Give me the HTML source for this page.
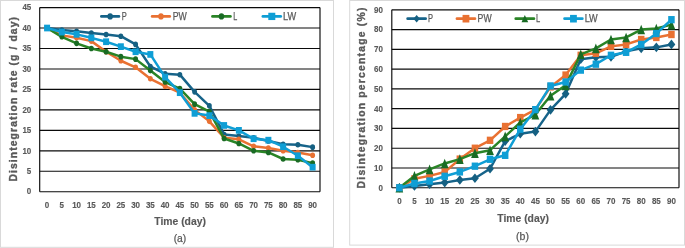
<!DOCTYPE html>
<html><head><meta charset="utf-8"><title>Disintegration charts</title>
<style>
html,body{margin:0;padding:0;background:#fff;}
svg{display:block}
text{font-family:"Liberation Sans",sans-serif;fill:#595959;}
.tk{font-size:9.8px;font-weight:bold;stroke:#595959;stroke-width:0.15px;}
.lg{font-size:10.4px;stroke:#595959;stroke-width:0.25px;}
.xt{font-size:11.2px;font-weight:bold;stroke:#595959;stroke-width:0.15px;}
.sb{font-size:10.8px;stroke:#595959;stroke-width:0.25px;}
.yt{font-size:10.4px;font-weight:bold;stroke:#595959;stroke-width:0.35px;}
</style></head><body>
<svg width="685" height="248" viewBox="0 0 685 248">
<rect width="685" height="248" fill="#fff"/>
<g>
<rect width="685" height="248" fill="#fff"/>
<rect x="0.5" y="0.5" width="333.0" height="246.8" fill="#fff" stroke="#D9D9D9" stroke-width="1"/>
<line x1="39.7" y1="191.75" x2="320.0" y2="191.75" stroke="#0a0a0a" stroke-width="1.15"/>
<text x="26.85" y="194.45" class="tk" textLength="4.45" lengthAdjust="spacingAndGlyphs">0</text>
<line x1="39.7" y1="171.28" x2="320.0" y2="171.28" stroke="#0a0a0a" stroke-width="1.15"/>
<text x="26.85" y="173.98" class="tk" textLength="4.45" lengthAdjust="spacingAndGlyphs">5</text>
<line x1="39.7" y1="150.82" x2="320.0" y2="150.82" stroke="#0a0a0a" stroke-width="1.15"/>
<text x="22.40" y="153.52" class="tk" textLength="8.90" lengthAdjust="spacingAndGlyphs">10</text>
<line x1="39.7" y1="130.35" x2="320.0" y2="130.35" stroke="#0a0a0a" stroke-width="1.15"/>
<text x="22.40" y="133.05" class="tk" textLength="8.90" lengthAdjust="spacingAndGlyphs">15</text>
<line x1="39.7" y1="109.88" x2="320.0" y2="109.88" stroke="#0a0a0a" stroke-width="1.15"/>
<text x="22.40" y="112.58" class="tk" textLength="8.90" lengthAdjust="spacingAndGlyphs">20</text>
<line x1="39.7" y1="89.42" x2="320.0" y2="89.42" stroke="#0a0a0a" stroke-width="1.15"/>
<text x="22.40" y="92.12" class="tk" textLength="8.90" lengthAdjust="spacingAndGlyphs">25</text>
<line x1="39.7" y1="68.95" x2="320.0" y2="68.95" stroke="#0a0a0a" stroke-width="1.15"/>
<text x="22.40" y="71.65" class="tk" textLength="8.90" lengthAdjust="spacingAndGlyphs">30</text>
<line x1="39.7" y1="48.48" x2="320.0" y2="48.48" stroke="#0a0a0a" stroke-width="1.15"/>
<text x="22.40" y="51.18" class="tk" textLength="8.90" lengthAdjust="spacingAndGlyphs">35</text>
<line x1="39.7" y1="28.02" x2="320.0" y2="28.02" stroke="#0a0a0a" stroke-width="1.15"/>
<text x="22.40" y="30.72" class="tk" textLength="8.90" lengthAdjust="spacingAndGlyphs">40</text>
<line x1="39.7" y1="7.55" x2="320.0" y2="7.55" stroke="#0a0a0a" stroke-width="1.15"/>
<text x="22.40" y="10.25" class="tk" textLength="8.90" lengthAdjust="spacingAndGlyphs">45</text>
<line x1="39.7" y1="7.55" x2="39.7" y2="191.75" stroke="#0a0a0a" stroke-width="1.15"/>
<line x1="320.0" y1="7.55" x2="320.0" y2="191.75" stroke="#0a0a0a" stroke-width="1.15"/>
<text x="44.85" y="208.0" class="tk" textLength="4.45" lengthAdjust="spacingAndGlyphs">0</text>
<text x="59.60" y="208.0" class="tk" textLength="4.45" lengthAdjust="spacingAndGlyphs">5</text>
<text x="72.13" y="208.0" class="tk" textLength="8.90" lengthAdjust="spacingAndGlyphs">10</text>
<text x="86.88" y="208.0" class="tk" textLength="8.90" lengthAdjust="spacingAndGlyphs">15</text>
<text x="101.64" y="208.0" class="tk" textLength="8.90" lengthAdjust="spacingAndGlyphs">20</text>
<text x="116.39" y="208.0" class="tk" textLength="8.90" lengthAdjust="spacingAndGlyphs">25</text>
<text x="131.14" y="208.0" class="tk" textLength="8.90" lengthAdjust="spacingAndGlyphs">30</text>
<text x="145.89" y="208.0" class="tk" textLength="8.90" lengthAdjust="spacingAndGlyphs">35</text>
<text x="160.65" y="208.0" class="tk" textLength="8.90" lengthAdjust="spacingAndGlyphs">40</text>
<text x="175.40" y="208.0" class="tk" textLength="8.90" lengthAdjust="spacingAndGlyphs">45</text>
<text x="190.15" y="208.0" class="tk" textLength="8.90" lengthAdjust="spacingAndGlyphs">50</text>
<text x="204.91" y="208.0" class="tk" textLength="8.90" lengthAdjust="spacingAndGlyphs">55</text>
<text x="219.66" y="208.0" class="tk" textLength="8.90" lengthAdjust="spacingAndGlyphs">60</text>
<text x="234.41" y="208.0" class="tk" textLength="8.90" lengthAdjust="spacingAndGlyphs">65</text>
<text x="249.16" y="208.0" class="tk" textLength="8.90" lengthAdjust="spacingAndGlyphs">70</text>
<text x="263.92" y="208.0" class="tk" textLength="8.90" lengthAdjust="spacingAndGlyphs">75</text>
<text x="278.67" y="208.0" class="tk" textLength="8.90" lengthAdjust="spacingAndGlyphs">80</text>
<text x="293.42" y="208.0" class="tk" textLength="8.90" lengthAdjust="spacingAndGlyphs">85</text>
<text x="308.17" y="208.0" class="tk" textLength="8.90" lengthAdjust="spacingAndGlyphs">90</text>
<polyline points="47.08,28.02 61.83,30.06 76.58,31.29 91.33,32.93 106.09,34.57 120.84,36.20 135.59,44.39 150.34,66.49 165.10,73.86 179.85,74.68 194.60,91.87 209.36,105.79 224.11,134.44 238.86,136.08 253.61,137.72 268.37,140.99 283.12,144.27 297.87,144.68 312.62,147.13" fill="none" stroke="#166389" stroke-width="2.5" stroke-linejoin="round" stroke-linecap="round"/>
<ellipse cx="47.08" cy="28.02" rx="2.45" ry="2.80" fill="#156082"/>
<ellipse cx="61.83" cy="30.06" rx="2.45" ry="2.80" fill="#156082"/>
<ellipse cx="76.58" cy="31.29" rx="2.45" ry="2.80" fill="#156082"/>
<ellipse cx="91.33" cy="32.93" rx="2.45" ry="2.80" fill="#156082"/>
<ellipse cx="106.09" cy="34.57" rx="2.45" ry="2.80" fill="#156082"/>
<ellipse cx="120.84" cy="36.20" rx="2.45" ry="2.80" fill="#156082"/>
<ellipse cx="135.59" cy="44.39" rx="2.45" ry="2.80" fill="#156082"/>
<ellipse cx="150.34" cy="66.49" rx="2.45" ry="2.80" fill="#156082"/>
<ellipse cx="165.10" cy="73.86" rx="2.45" ry="2.80" fill="#156082"/>
<ellipse cx="179.85" cy="74.68" rx="2.45" ry="2.80" fill="#156082"/>
<ellipse cx="194.60" cy="91.87" rx="2.45" ry="2.80" fill="#156082"/>
<ellipse cx="209.36" cy="105.79" rx="2.45" ry="2.80" fill="#156082"/>
<ellipse cx="224.11" cy="134.44" rx="2.45" ry="2.80" fill="#156082"/>
<ellipse cx="238.86" cy="136.08" rx="2.45" ry="2.80" fill="#156082"/>
<ellipse cx="253.61" cy="137.72" rx="2.45" ry="2.80" fill="#156082"/>
<ellipse cx="268.37" cy="140.99" rx="2.45" ry="2.80" fill="#156082"/>
<ellipse cx="283.12" cy="144.27" rx="2.45" ry="2.80" fill="#156082"/>
<ellipse cx="297.87" cy="144.68" rx="2.45" ry="2.80" fill="#156082"/>
<ellipse cx="312.62" cy="147.13" rx="2.45" ry="2.80" fill="#156082"/>
<polyline points="47.08,28.02 61.83,35.38 76.58,37.84 91.33,41.12 106.09,51.76 120.84,60.76 135.59,67.31 150.34,78.77 165.10,86.14 179.85,92.69 194.60,109.88 209.36,121.34 224.11,137.72 238.86,139.36 253.61,146.31 268.37,147.95 283.12,150.82 297.87,152.45 312.62,155.32" fill="none" stroke="#E97132" stroke-width="2.5" stroke-linejoin="round" stroke-linecap="round"/>
<ellipse cx="47.08" cy="28.02" rx="2.45" ry="2.80" fill="#E97132"/>
<ellipse cx="61.83" cy="35.38" rx="2.45" ry="2.80" fill="#E97132"/>
<ellipse cx="76.58" cy="37.84" rx="2.45" ry="2.80" fill="#E97132"/>
<ellipse cx="91.33" cy="41.12" rx="2.45" ry="2.80" fill="#E97132"/>
<ellipse cx="106.09" cy="51.76" rx="2.45" ry="2.80" fill="#E97132"/>
<ellipse cx="120.84" cy="60.76" rx="2.45" ry="2.80" fill="#E97132"/>
<ellipse cx="135.59" cy="67.31" rx="2.45" ry="2.80" fill="#E97132"/>
<ellipse cx="150.34" cy="78.77" rx="2.45" ry="2.80" fill="#E97132"/>
<ellipse cx="165.10" cy="86.14" rx="2.45" ry="2.80" fill="#E97132"/>
<ellipse cx="179.85" cy="92.69" rx="2.45" ry="2.80" fill="#E97132"/>
<ellipse cx="194.60" cy="109.88" rx="2.45" ry="2.80" fill="#E97132"/>
<ellipse cx="209.36" cy="121.34" rx="2.45" ry="2.80" fill="#E97132"/>
<ellipse cx="224.11" cy="137.72" rx="2.45" ry="2.80" fill="#E97132"/>
<ellipse cx="238.86" cy="139.36" rx="2.45" ry="2.80" fill="#E97132"/>
<ellipse cx="253.61" cy="146.31" rx="2.45" ry="2.80" fill="#E97132"/>
<ellipse cx="268.37" cy="147.95" rx="2.45" ry="2.80" fill="#E97132"/>
<ellipse cx="283.12" cy="150.82" rx="2.45" ry="2.80" fill="#E97132"/>
<ellipse cx="297.87" cy="152.45" rx="2.45" ry="2.80" fill="#E97132"/>
<ellipse cx="312.62" cy="155.32" rx="2.45" ry="2.80" fill="#E97132"/>
<polyline points="47.08,28.02 61.83,36.82 76.58,43.37 91.33,48.48 106.09,51.76 120.84,56.67 135.59,59.13 150.34,70.59 165.10,82.05 179.85,88.60 194.60,104.15 209.36,111.52 224.11,138.54 238.86,143.45 253.61,150.82 268.37,152.45 283.12,159.00 297.87,159.82 312.62,163.10" fill="none" stroke="#2A8426" stroke-width="2.5" stroke-linejoin="round" stroke-linecap="round"/>
<ellipse cx="47.08" cy="28.02" rx="2.45" ry="2.80" fill="#196B24"/>
<ellipse cx="61.83" cy="36.82" rx="2.45" ry="2.80" fill="#196B24"/>
<ellipse cx="76.58" cy="43.37" rx="2.45" ry="2.80" fill="#196B24"/>
<ellipse cx="91.33" cy="48.48" rx="2.45" ry="2.80" fill="#196B24"/>
<ellipse cx="106.09" cy="51.76" rx="2.45" ry="2.80" fill="#196B24"/>
<ellipse cx="120.84" cy="56.67" rx="2.45" ry="2.80" fill="#196B24"/>
<ellipse cx="135.59" cy="59.13" rx="2.45" ry="2.80" fill="#196B24"/>
<ellipse cx="150.34" cy="70.59" rx="2.45" ry="2.80" fill="#196B24"/>
<ellipse cx="165.10" cy="82.05" rx="2.45" ry="2.80" fill="#196B24"/>
<ellipse cx="179.85" cy="88.60" rx="2.45" ry="2.80" fill="#196B24"/>
<ellipse cx="194.60" cy="104.15" rx="2.45" ry="2.80" fill="#196B24"/>
<ellipse cx="209.36" cy="111.52" rx="2.45" ry="2.80" fill="#196B24"/>
<ellipse cx="224.11" cy="138.54" rx="2.45" ry="2.80" fill="#196B24"/>
<ellipse cx="238.86" cy="143.45" rx="2.45" ry="2.80" fill="#196B24"/>
<ellipse cx="253.61" cy="150.82" rx="2.45" ry="2.80" fill="#196B24"/>
<ellipse cx="268.37" cy="152.45" rx="2.45" ry="2.80" fill="#196B24"/>
<ellipse cx="283.12" cy="159.00" rx="2.45" ry="2.80" fill="#196B24"/>
<ellipse cx="297.87" cy="159.82" rx="2.45" ry="2.80" fill="#196B24"/>
<ellipse cx="312.62" cy="163.10" rx="2.45" ry="2.80" fill="#196B24"/>
<polyline points="47.08,28.02 61.83,32.11 76.58,34.36 91.33,37.84 106.09,41.73 120.84,46.64 135.59,51.76 150.34,54.42 165.10,77.14 179.85,92.69 194.60,113.36 209.36,115.61 224.11,125.44 238.86,130.35 253.61,138.74 268.37,140.17 283.12,146.72 297.87,155.73 312.62,167.19" fill="none" stroke="#0F9ED5" stroke-width="2.5" stroke-linejoin="round" stroke-linecap="round"/>
<rect x="44.08" y="24.67" width="6.00" height="6.70" fill="#0F9ED5"/>
<rect x="58.83" y="28.76" width="6.00" height="6.70" fill="#0F9ED5"/>
<rect x="73.58" y="31.01" width="6.00" height="6.70" fill="#0F9ED5"/>
<rect x="88.33" y="34.49" width="6.00" height="6.70" fill="#0F9ED5"/>
<rect x="103.09" y="38.38" width="6.00" height="6.70" fill="#0F9ED5"/>
<rect x="117.84" y="43.29" width="6.00" height="6.70" fill="#0F9ED5"/>
<rect x="132.59" y="48.41" width="6.00" height="6.70" fill="#0F9ED5"/>
<rect x="147.34" y="51.07" width="6.00" height="6.70" fill="#0F9ED5"/>
<rect x="162.10" y="73.79" width="6.00" height="6.70" fill="#0F9ED5"/>
<rect x="176.85" y="89.34" width="6.00" height="6.70" fill="#0F9ED5"/>
<rect x="191.60" y="110.01" width="6.00" height="6.70" fill="#0F9ED5"/>
<rect x="206.36" y="112.26" width="6.00" height="6.70" fill="#0F9ED5"/>
<rect x="221.11" y="122.09" width="6.00" height="6.70" fill="#0F9ED5"/>
<rect x="235.86" y="127.00" width="6.00" height="6.70" fill="#0F9ED5"/>
<rect x="250.61" y="135.39" width="6.00" height="6.70" fill="#0F9ED5"/>
<rect x="265.37" y="136.82" width="6.00" height="6.70" fill="#0F9ED5"/>
<rect x="280.12" y="143.37" width="6.00" height="6.70" fill="#0F9ED5"/>
<rect x="294.87" y="152.38" width="6.00" height="6.70" fill="#0F9ED5"/>
<rect x="309.62" y="163.84" width="6.00" height="6.70" fill="#0F9ED5"/>
<line x1="101.4" y1="16.4" x2="118.89999999999999" y2="16.4" stroke="#166389" stroke-width="2.8" stroke-linecap="round"/>
<ellipse cx="110.15" cy="16.40" rx="2.75" ry="3.15" fill="#156082"/>
<text x="121.8" y="19.8" class="lg" textLength="5.0" lengthAdjust="spacingAndGlyphs">P</text>
<line x1="152.20000000000002" y1="16.4" x2="169.7" y2="16.4" stroke="#E97132" stroke-width="2.8" stroke-linecap="round"/>
<ellipse cx="160.95" cy="16.40" rx="2.75" ry="3.15" fill="#E97132"/>
<text x="172.7" y="19.8" class="lg" textLength="14.1" lengthAdjust="spacingAndGlyphs">PW</text>
<line x1="212.5" y1="16.4" x2="230.4" y2="16.4" stroke="#2A8426" stroke-width="2.8" stroke-linecap="round"/>
<ellipse cx="221.45" cy="16.40" rx="2.75" ry="3.15" fill="#196B24"/>
<text x="233.2" y="19.8" class="lg" textLength="4.0" lengthAdjust="spacingAndGlyphs">L</text>
<line x1="262.9" y1="16.4" x2="280.70000000000005" y2="16.4" stroke="#0F9ED5" stroke-width="2.8" stroke-linecap="round"/>
<rect x="268.30" y="12.75" width="7.00" height="7.30" fill="#0F9ED5"/>
<text x="283" y="19.8" class="lg" textLength="13.1" lengthAdjust="spacingAndGlyphs">LW</text>
<text x="154.3" y="224.5" class="xt" textLength="51.6" lengthAdjust="spacingAndGlyphs">Time (day)</text>
<text x="173.7" y="241.9" class="sb" textLength="12.6" lengthAdjust="spacingAndGlyphs">(a)</text>
<text transform="translate(16.9,181.5) rotate(-90)" class="yt" textLength="164.5" lengthAdjust="spacing">Disintegration rate (g / day)</text>
<rect x="349.7" y="0.5" width="334.8" height="244.6" fill="#fff" stroke="#D9D9D9" stroke-width="1"/>
<line x1="391.8" y1="187.75" x2="679.0" y2="187.75" stroke="#0a0a0a" stroke-width="1.15"/>
<text x="378.55" y="190.65" class="tk" textLength="4.45" lengthAdjust="spacingAndGlyphs">0</text>
<line x1="391.8" y1="167.98" x2="679.0" y2="167.98" stroke="#0a0a0a" stroke-width="1.15"/>
<text x="374.10" y="170.88" class="tk" textLength="8.90" lengthAdjust="spacingAndGlyphs">10</text>
<line x1="391.8" y1="148.21" x2="679.0" y2="148.21" stroke="#0a0a0a" stroke-width="1.15"/>
<text x="374.10" y="151.11" class="tk" textLength="8.90" lengthAdjust="spacingAndGlyphs">20</text>
<line x1="391.8" y1="128.43" x2="679.0" y2="128.43" stroke="#0a0a0a" stroke-width="1.15"/>
<text x="374.10" y="131.33" class="tk" textLength="8.90" lengthAdjust="spacingAndGlyphs">30</text>
<line x1="391.8" y1="108.66" x2="679.0" y2="108.66" stroke="#0a0a0a" stroke-width="1.15"/>
<text x="374.10" y="111.56" class="tk" textLength="8.90" lengthAdjust="spacingAndGlyphs">40</text>
<line x1="391.8" y1="88.89" x2="679.0" y2="88.89" stroke="#0a0a0a" stroke-width="1.15"/>
<text x="374.10" y="91.79" class="tk" textLength="8.90" lengthAdjust="spacingAndGlyphs">50</text>
<line x1="391.8" y1="69.12" x2="679.0" y2="69.12" stroke="#0a0a0a" stroke-width="1.15"/>
<text x="374.10" y="72.02" class="tk" textLength="8.90" lengthAdjust="spacingAndGlyphs">60</text>
<line x1="391.8" y1="49.34" x2="679.0" y2="49.34" stroke="#0a0a0a" stroke-width="1.15"/>
<text x="374.10" y="52.24" class="tk" textLength="8.90" lengthAdjust="spacingAndGlyphs">70</text>
<line x1="391.8" y1="29.57" x2="679.0" y2="29.57" stroke="#0a0a0a" stroke-width="1.15"/>
<text x="374.10" y="32.47" class="tk" textLength="8.90" lengthAdjust="spacingAndGlyphs">80</text>
<line x1="391.8" y1="9.80" x2="679.0" y2="9.80" stroke="#0a0a0a" stroke-width="1.15"/>
<text x="374.10" y="12.70" class="tk" textLength="8.90" lengthAdjust="spacingAndGlyphs">90</text>
<line x1="391.8" y1="9.8" x2="391.8" y2="187.75" stroke="#0a0a0a" stroke-width="1.15"/>
<line x1="679.0" y1="9.8" x2="679.0" y2="187.75" stroke="#0a0a0a" stroke-width="1.15"/>
<text x="397.13" y="204.2" class="tk" textLength="4.45" lengthAdjust="spacingAndGlyphs">0</text>
<text x="412.25" y="204.2" class="tk" textLength="4.45" lengthAdjust="spacingAndGlyphs">5</text>
<text x="425.14" y="204.2" class="tk" textLength="8.90" lengthAdjust="spacingAndGlyphs">10</text>
<text x="440.26" y="204.2" class="tk" textLength="8.90" lengthAdjust="spacingAndGlyphs">15</text>
<text x="455.37" y="204.2" class="tk" textLength="8.90" lengthAdjust="spacingAndGlyphs">20</text>
<text x="470.49" y="204.2" class="tk" textLength="8.90" lengthAdjust="spacingAndGlyphs">25</text>
<text x="485.60" y="204.2" class="tk" textLength="8.90" lengthAdjust="spacingAndGlyphs">30</text>
<text x="500.72" y="204.2" class="tk" textLength="8.90" lengthAdjust="spacingAndGlyphs">35</text>
<text x="515.83" y="204.2" class="tk" textLength="8.90" lengthAdjust="spacingAndGlyphs">40</text>
<text x="530.95" y="204.2" class="tk" textLength="8.90" lengthAdjust="spacingAndGlyphs">45</text>
<text x="546.07" y="204.2" class="tk" textLength="8.90" lengthAdjust="spacingAndGlyphs">50</text>
<text x="561.18" y="204.2" class="tk" textLength="8.90" lengthAdjust="spacingAndGlyphs">55</text>
<text x="576.30" y="204.2" class="tk" textLength="8.90" lengthAdjust="spacingAndGlyphs">60</text>
<text x="591.41" y="204.2" class="tk" textLength="8.90" lengthAdjust="spacingAndGlyphs">65</text>
<text x="606.53" y="204.2" class="tk" textLength="8.90" lengthAdjust="spacingAndGlyphs">70</text>
<text x="621.64" y="204.2" class="tk" textLength="8.90" lengthAdjust="spacingAndGlyphs">75</text>
<text x="636.76" y="204.2" class="tk" textLength="8.90" lengthAdjust="spacingAndGlyphs">80</text>
<text x="651.88" y="204.2" class="tk" textLength="8.90" lengthAdjust="spacingAndGlyphs">85</text>
<text x="666.99" y="204.2" class="tk" textLength="8.90" lengthAdjust="spacingAndGlyphs">90</text>
<polyline points="399.36,187.75 414.47,185.97 429.59,184.19 444.71,182.61 459.82,180.04 474.94,178.26 490.05,168.77 505.17,141.09 520.28,133.77 535.40,131.60 550.52,109.85 565.63,93.83 580.75,59.23 595.86,57.25 610.98,56.86 626.09,51.32 641.21,48.36 656.33,47.37 671.44,44.40" fill="none" stroke="#166389" stroke-width="2.5" stroke-linejoin="round" stroke-linecap="round"/>
<polygon points="399.36,182.95 403.26,187.75 399.36,192.55 395.46,187.75" fill="#156082"/>
<polygon points="414.47,181.17 418.37,185.97 414.47,190.77 410.57,185.97" fill="#156082"/>
<polygon points="429.59,179.39 433.49,184.19 429.59,188.99 425.69,184.19" fill="#156082"/>
<polygon points="444.71,177.81 448.61,182.61 444.71,187.41 440.81,182.61" fill="#156082"/>
<polygon points="459.82,175.24 463.72,180.04 459.82,184.84 455.92,180.04" fill="#156082"/>
<polygon points="474.94,173.46 478.84,178.26 474.94,183.06 471.04,178.26" fill="#156082"/>
<polygon points="490.05,163.97 493.95,168.77 490.05,173.57 486.15,168.77" fill="#156082"/>
<polygon points="505.17,136.29 509.07,141.09 505.17,145.89 501.27,141.09" fill="#156082"/>
<polygon points="520.28,128.97 524.18,133.77 520.28,138.57 516.38,133.77" fill="#156082"/>
<polygon points="535.40,126.80 539.30,131.60 535.40,136.40 531.50,131.60" fill="#156082"/>
<polygon points="550.52,105.05 554.42,109.85 550.52,114.65 546.62,109.85" fill="#156082"/>
<polygon points="565.63,89.03 569.53,93.83 565.63,98.63 561.73,93.83" fill="#156082"/>
<polygon points="580.75,54.43 584.65,59.23 580.75,64.03 576.85,59.23" fill="#156082"/>
<polygon points="595.86,52.45 599.76,57.25 595.86,62.05 591.96,57.25" fill="#156082"/>
<polygon points="610.98,52.06 614.88,56.86 610.98,61.66 607.08,56.86" fill="#156082"/>
<polygon points="626.09,46.52 629.99,51.32 626.09,56.12 622.19,51.32" fill="#156082"/>
<polygon points="641.21,43.56 645.11,48.36 641.21,53.16 637.31,48.36" fill="#156082"/>
<polygon points="656.33,42.57 660.23,47.37 656.33,52.17 652.43,47.37" fill="#156082"/>
<polygon points="671.44,39.60 675.34,44.40 671.44,49.20 667.54,44.40" fill="#156082"/>
<polyline points="399.36,187.75 414.47,178.85 429.59,175.89 444.71,171.93 459.82,159.08 474.94,148.21 490.05,140.30 505.17,126.46 520.28,117.56 535.40,109.65 550.52,86.91 565.63,75.05 580.75,55.28 595.86,53.30 610.98,46.38 626.09,44.40 641.21,39.46 656.33,37.48 671.44,34.52" fill="none" stroke="#E97132" stroke-width="2.5" stroke-linejoin="round" stroke-linecap="round"/>
<rect x="396.11" y="184.10" width="6.50" height="7.30" fill="#E97132"/>
<rect x="411.22" y="175.20" width="6.50" height="7.30" fill="#E97132"/>
<rect x="426.34" y="172.24" width="6.50" height="7.30" fill="#E97132"/>
<rect x="441.46" y="168.28" width="6.50" height="7.30" fill="#E97132"/>
<rect x="456.57" y="155.43" width="6.50" height="7.30" fill="#E97132"/>
<rect x="471.69" y="144.56" width="6.50" height="7.30" fill="#E97132"/>
<rect x="486.80" y="136.65" width="6.50" height="7.30" fill="#E97132"/>
<rect x="501.92" y="122.81" width="6.50" height="7.30" fill="#E97132"/>
<rect x="517.03" y="113.91" width="6.50" height="7.30" fill="#E97132"/>
<rect x="532.15" y="106.00" width="6.50" height="7.30" fill="#E97132"/>
<rect x="547.27" y="83.26" width="6.50" height="7.30" fill="#E97132"/>
<rect x="562.38" y="71.40" width="6.50" height="7.30" fill="#E97132"/>
<rect x="577.50" y="51.63" width="6.50" height="7.30" fill="#E97132"/>
<rect x="592.61" y="49.65" width="6.50" height="7.30" fill="#E97132"/>
<rect x="607.73" y="42.73" width="6.50" height="7.30" fill="#E97132"/>
<rect x="622.84" y="40.75" width="6.50" height="7.30" fill="#E97132"/>
<rect x="637.96" y="35.81" width="6.50" height="7.30" fill="#E97132"/>
<rect x="653.08" y="33.83" width="6.50" height="7.30" fill="#E97132"/>
<rect x="668.19" y="30.87" width="6.50" height="7.30" fill="#E97132"/>
<polyline points="399.36,187.75 414.47,175.89 429.59,169.36 444.71,163.43 459.82,159.08 474.94,153.15 490.05,150.18 505.17,136.34 520.28,122.50 535.40,114.59 550.52,95.81 565.63,85.33 580.75,54.29 595.86,48.36 610.98,39.46 626.09,37.48 641.21,29.57 656.33,28.58 671.44,24.63" fill="none" stroke="#2A8426" stroke-width="2.5" stroke-linejoin="round" stroke-linecap="round"/>
<polygon points="399.36,182.95 403.21,192.55 395.51,192.55" fill="#196B24"/>
<polygon points="414.47,171.09 418.32,180.69 410.62,180.69" fill="#196B24"/>
<polygon points="429.59,164.56 433.44,174.16 425.74,174.16" fill="#196B24"/>
<polygon points="444.71,158.63 448.56,168.23 440.86,168.23" fill="#196B24"/>
<polygon points="459.82,154.28 463.67,163.88 455.97,163.88" fill="#196B24"/>
<polygon points="474.94,148.35 478.79,157.95 471.09,157.95" fill="#196B24"/>
<polygon points="490.05,145.38 493.90,154.98 486.20,154.98" fill="#196B24"/>
<polygon points="505.17,131.54 509.02,141.14 501.32,141.14" fill="#196B24"/>
<polygon points="520.28,117.70 524.13,127.30 516.43,127.30" fill="#196B24"/>
<polygon points="535.40,109.79 539.25,119.39 531.55,119.39" fill="#196B24"/>
<polygon points="550.52,91.01 554.37,100.61 546.67,100.61" fill="#196B24"/>
<polygon points="565.63,80.53 569.48,90.13 561.78,90.13" fill="#196B24"/>
<polygon points="580.75,49.49 584.60,59.09 576.90,59.09" fill="#196B24"/>
<polygon points="595.86,43.56 599.71,53.16 592.01,53.16" fill="#196B24"/>
<polygon points="610.98,34.66 614.83,44.26 607.13,44.26" fill="#196B24"/>
<polygon points="626.09,32.68 629.94,42.28 622.24,42.28" fill="#196B24"/>
<polygon points="641.21,24.77 645.06,34.37 637.36,34.37" fill="#196B24"/>
<polygon points="656.33,23.78 660.18,33.38 652.48,33.38" fill="#196B24"/>
<polygon points="671.44,19.83 675.29,29.43 667.59,29.43" fill="#196B24"/>
<polyline points="399.36,187.75 414.47,183.40 429.59,181.03 444.71,176.28 459.82,171.93 474.94,166.20 490.05,159.28 505.17,155.32 520.28,129.22 535.40,109.65 550.52,85.92 565.63,81.97 580.75,70.11 595.86,64.17 610.98,55.28 626.09,52.31 641.21,44.40 656.33,33.53 671.44,19.69" fill="none" stroke="#0F9ED5" stroke-width="2.5" stroke-linejoin="round" stroke-linecap="round"/>
<rect x="396.11" y="184.10" width="6.50" height="7.30" fill="#0F9ED5"/>
<rect x="411.22" y="179.75" width="6.50" height="7.30" fill="#0F9ED5"/>
<rect x="426.34" y="177.38" width="6.50" height="7.30" fill="#0F9ED5"/>
<rect x="441.46" y="172.63" width="6.50" height="7.30" fill="#0F9ED5"/>
<rect x="456.57" y="168.28" width="6.50" height="7.30" fill="#0F9ED5"/>
<rect x="471.69" y="162.55" width="6.50" height="7.30" fill="#0F9ED5"/>
<rect x="486.80" y="155.63" width="6.50" height="7.30" fill="#0F9ED5"/>
<rect x="501.92" y="151.67" width="6.50" height="7.30" fill="#0F9ED5"/>
<rect x="517.03" y="125.57" width="6.50" height="7.30" fill="#0F9ED5"/>
<rect x="532.15" y="106.00" width="6.50" height="7.30" fill="#0F9ED5"/>
<rect x="547.27" y="82.27" width="6.50" height="7.30" fill="#0F9ED5"/>
<rect x="562.38" y="78.32" width="6.50" height="7.30" fill="#0F9ED5"/>
<rect x="577.50" y="66.46" width="6.50" height="7.30" fill="#0F9ED5"/>
<rect x="592.61" y="60.52" width="6.50" height="7.30" fill="#0F9ED5"/>
<rect x="607.73" y="51.63" width="6.50" height="7.30" fill="#0F9ED5"/>
<rect x="622.84" y="48.66" width="6.50" height="7.30" fill="#0F9ED5"/>
<rect x="637.96" y="40.75" width="6.50" height="7.30" fill="#0F9ED5"/>
<rect x="653.08" y="29.88" width="6.50" height="7.30" fill="#0F9ED5"/>
<rect x="668.19" y="16.04" width="6.50" height="7.30" fill="#0F9ED5"/>
<line x1="407.7" y1="18.7" x2="425.6" y2="18.7" stroke="#166389" stroke-width="2.8" stroke-linecap="round"/>
<polygon points="416.65,14.90 419.85,18.70 416.65,22.50 413.45,18.70" fill="#156082"/>
<text x="427.9" y="21.9" class="lg" textLength="5.0" lengthAdjust="spacingAndGlyphs">P</text>
<line x1="457.0" y1="18.7" x2="474.90000000000003" y2="18.7" stroke="#E97132" stroke-width="2.8" stroke-linecap="round"/>
<rect x="462.55" y="14.90" width="6.80" height="7.60" fill="#E97132"/>
<text x="477.6" y="21.9" class="lg" textLength="14.0" lengthAdjust="spacingAndGlyphs">PW</text>
<line x1="515.8" y1="18.7" x2="533.9" y2="18.7" stroke="#2A8426" stroke-width="2.8" stroke-linecap="round"/>
<polygon points="524.85,15.10 528.20,22.30 521.50,22.30" fill="#196B24"/>
<text x="535.9" y="21.9" class="lg" textLength="4.2" lengthAdjust="spacingAndGlyphs">L</text>
<line x1="564.6" y1="18.7" x2="582.3000000000001" y2="18.7" stroke="#0F9ED5" stroke-width="2.8" stroke-linecap="round"/>
<rect x="570.05" y="14.90" width="6.80" height="7.60" fill="#0F9ED5"/>
<text x="584.7" y="21.9" class="lg" textLength="13.0" lengthAdjust="spacingAndGlyphs">LW</text>
<text x="497.3" y="222.3" class="xt" textLength="51.6" lengthAdjust="spacingAndGlyphs">Time (day)</text>
<text x="516.1" y="239.9" class="sb" textLength="12.9" lengthAdjust="spacingAndGlyphs">(b)</text>
<text transform="translate(364.6,188.4) rotate(-90)" class="yt" textLength="180.8" lengthAdjust="spacing">Disintegration percentage (%)</text>
</g>
</svg>
</body></html>
